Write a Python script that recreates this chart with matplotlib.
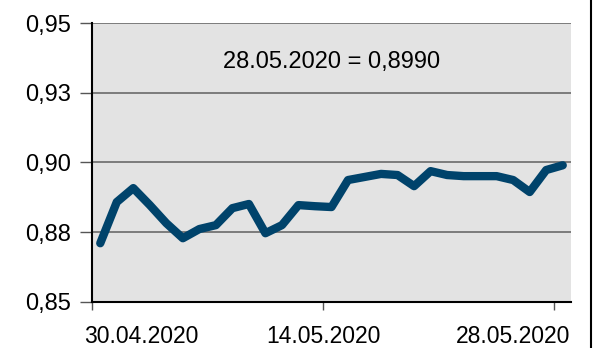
import matplotlib
matplotlib.use("Agg")
import matplotlib.pyplot as plt
from matplotlib.lines import Line2D
import numpy as np

values = [0.8710, 0.8858, 0.8908, 0.8847, 0.8782, 0.8728, 0.8761, 0.8775,
          0.8836, 0.8851, 0.8746, 0.8775, 0.8847, 0.8843, 0.8840, 0.8937,
          0.8948, 0.8959, 0.8955, 0.8915, 0.8969, 0.8955, 0.8951, 0.8951,
          0.8951, 0.8937, 0.8894, 0.8973, 0.8990]
x_labels = ["30.04.2020", "14.05.2020", "28.05.2020"]
x_label_idx = [0, 14, 28]
y_ticks = [0.85, 0.875, 0.90, 0.925, 0.95]
y_labels = ["0,85", "0,88", "0,90", "0,93", "0,95"]
annotation = "28.05.2020 = 0,8990"

plt.rcParams['font.family'] = ['Liberation Sans', 'DejaVu Sans']

W, H = 599, 348
fig = plt.figure(figsize=(W/100, H/100), dpi=100)
ax = fig.add_axes([92/W, 1-301.7/H, (571-92)/W, (301.7-23.3)/H])
ax.set_facecolor('#e3e3e3')

x = np.arange(len(values))
ax.plot(x, values, color='#00436b', lw=6, solid_capstyle='round', solid_joinstyle='round', zorder=3)

ax.set_xlim(-0.5, len(values)-0.5)
ax.set_ylim(0.85, 0.95)
ax.set_yticks(y_ticks)
ax.set_yticklabels(y_labels, fontsize=17)
for yv in y_ticks[1:]:
    ax.axhline(yv, color='#6a6a6a', lw=1.2, zorder=1)

ax.set_xticks([i - 0.5 for i in x_label_idx])
ax.set_xticklabels([])
ax.tick_params(axis='x', length=6, width=1, color='#555555', direction='out')
ax.tick_params(axis='y', length=9, width=1, color='#555555', direction='out', pad=6)

for s in ['top', 'right']:
    ax.spines[s].set_visible(False)
ax.spines['left'].set_linewidth(1.5)
ax.spines['bottom'].set_linewidth(1.5)

aligns = ['left', 'center', 'right']
xpos = [-0.95, x_label_idx[1] - 0.5, len(values) - 0.55]
for lab, xp, ha in zip(x_labels, xpos, aligns):
    ax.annotate(lab, xy=(xp, 0), xycoords=('data', 'axes fraction'),
                xytext=(0, -29.5), textcoords='offset points',
                ha=ha, va='baseline', fontsize=16.5, annotation_clip=False)

ax.text(0.5, 0.86, annotation, transform=ax.transAxes, ha='center', va='center', fontsize=17)

fig.add_artist(Line2D([591/W, 591/W], [0, 1], color='black', lw=1.5, transform=fig.transFigure))

fig.savefig('out.png', dpi=100)
